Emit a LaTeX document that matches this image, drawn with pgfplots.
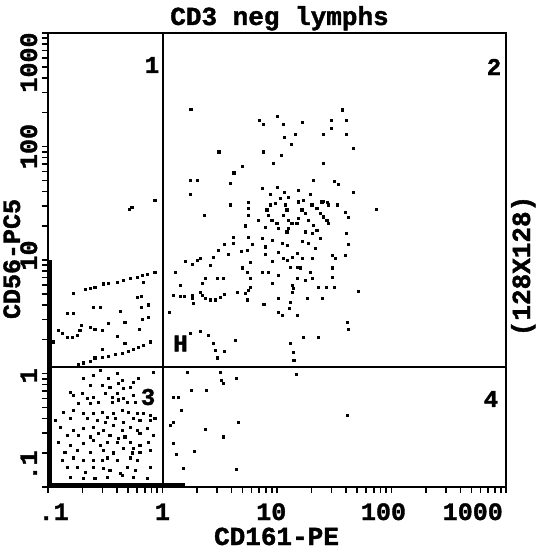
\documentclass[border=0pt]{standalone}
\usepackage{fontspec}
\usepackage{pgfplots}
\pgfplotsset{compat=1.18}
\newfontfamily\pix{Liberation Mono Bold}[FakeBold=1.5]
\newcommand{\pixfont}[1]{\pix\fontsize{#1}{#1}\selectfont}
\begin{document}
\begin{tikzpicture}
\begin{axis}[
  at={(0pt,0pt)}, anchor=south west,
  scale only axis, width=458pt, height=454pt,
  xmin=-1, xmax=3, ymin=-1, ymax=3,
  axis line style={line width=2.4pt},
  xtick pos=bottom, ytick pos=left,
  tick align=outside,
  major tick length=0pt,
  minor tick length=6pt,
  every minor tick/.style={line width=1.6pt, black},
  xtick={-0.95,0,0.95,1.93,2.71}, xticklabels={.1,1,10,100,1000},
  ytick={-0.81,-0.02,1.04,2.0,2.74}, yticklabels={.1,1,10,100,1000},
  minor xtick={-1,-0.699,-0.523,-0.398,-0.301,-0.222,-0.155,-0.097,-0.046,0,0.301,0.477,0.602,0.699,0.778,0.845,0.903,0.954,1,1.301,1.477,1.602,1.699,1.778,1.845,1.903,1.954,2,2.301,2.477,2.602,2.699,2.778,2.845,2.903,2.954,3},
  minor ytick={-1,-0.699,-0.523,-0.398,-0.301,-0.222,-0.155,-0.097,-0.046,0,0.301,0.477,0.602,0.699,0.778,0.845,0.903,0.954,1,1.301,1.477,1.602,1.699,1.778,1.845,1.903,1.954,2,2.301,2.477,2.602,2.699,2.778,2.845,2.903,2.954,3},
  xticklabel style={font=\pixfont{25}, anchor=base, yshift=-33pt},
  yticklabel style={font=\pixfont{25}, anchor=base, xshift=-11pt, rotate=90},
]
% events piled on the axes
\addplot[black, line width=4pt] coordinates {(-0.985,-1)(-0.985,1.0)};
\addplot[black, line width=4pt] coordinates {(-1,-0.985)(0.2,-0.985)};
% quadrant 2
\addplot[only marks, mark=square*, mark size=1.25pt, black] coordinates {
(0.246,2.330)(1.568,2.324)(0.843,2.233)(0.878,2.198)(1.000,2.269)(1.052,2.198)(1.218,2.216)(1.472,2.233)(1.603,2.233)(1.472,2.163)(1.061,2.084)(1.157,2.110)(1.402,2.110)(1.603,2.110)(1.122,2.022)(1.664,1.987)(0.493,1.952)(0.878,1.952)(1.035,1.925)(0.965,1.855)(1.402,1.855)(0.694,1.828)(0.624,1.767)(0.240,1.705)(0.301,1.705)(1.314,1.705)(1.498,1.696)(1.533,1.670)(0.590,1.678)(0.869,1.634)(1.000,1.643)(1.183,1.617)(1.061,1.599)(1.288,1.581)(0.240,1.581)(1.664,1.599)(0.939,1.581)(1.026,1.546)(1.096,1.555)(1.183,1.520)(0.747,1.511)(1.227,1.529)(1.402,1.520)(1.437,1.511)(0.590,1.485)(1.524,1.485)(1.865,1.449)(0.362,1.396)(0.747,1.396)(1.594,1.423)(1.620,1.379)(0.721,1.300)(1.603,1.238)
(0.910,1.441)(0.924,1.396)(0.954,1.352)(0.997,1.323)(0.939,1.485)(0.983,1.500)(1.070,1.485)(1.085,1.441)(1.055,1.396)(1.099,1.352)(1.128,1.323)(1.186,1.514)(1.216,1.441)(1.245,1.411)(1.186,1.367)(1.172,1.323)(1.303,1.485)(1.347,1.456)(1.376,1.411)(1.404,1.382)(1.434,1.352)(1.448,1.323)(1.390,1.514)(1.448,1.485)(1.273,1.352)(1.317,1.308)(1.347,1.264)(1.011,1.279)(1.085,1.249)(1.245,1.249)(0.749,1.456)(0.837,1.352)
(0.895,1.291)(1.096,1.282)(1.245,1.247)(1.306,1.238)(1.376,1.194)(1.620,1.141)(1.594,1.044)(0.616,1.203)(0.747,1.203)(0.869,1.194)(0.956,1.176)(1.044,1.150)(1.087,1.132)(1.218,1.167)(1.271,1.150)(1.332,1.106)(1.480,1.044)(1.507,1.018)(0.485,1.088)(0.537,1.141)(0.616,1.150)(0.686,1.079)(0.738,1.088)(0.782,1.141)(0.895,1.115)(0.895,1.053)(1.009,1.070)(1.052,1.018)(1.087,1.000)(1.131,1.026)(1.175,1.062)(1.218,1.018)(1.306,1.018)(0.441,1.026)(0.572,1.053)(0.197,0.991)(0.301,1.000)(0.328,1.018)(0.258,0.965)(0.415,0.956)(0.764,0.982)(0.956,0.991)(0.694,0.930)(0.738,0.894)(0.869,0.894)(0.921,0.894)(1.009,0.868)(1.114,0.938)(1.175,0.938)(1.201,0.930)(1.288,0.894)(1.480,0.930)(1.480,0.850)(0.109,0.894)(0.476,0.841)(0.528,0.841)(0.371,0.841)(0.345,0.797)(0.764,0.841)(1.175,0.841)(1.245,0.824)(1.306,0.841)(0.956,0.797)(1.131,0.780)(1.140,0.753)(0.764,0.762)(0.747,0.736)(1.358,0.762)(1.428,0.762)(1.498,0.762)(1.707,0.727)(0.153,0.780)(0.328,0.718)(0.345,0.692)(0.092,0.692)(0.153,0.683)(0.188,0.683)(0.258,0.692)(0.258,0.665)(0.371,0.665)(0.415,0.648)(0.459,0.648)(0.502,0.674)(0.537,0.700)(0.651,0.718)(0.721,0.709)(0.738,0.648)(1.009,0.665)(1.131,0.718)(1.262,0.665)(1.393,0.665)(0.266,0.621)(0.886,0.612)(1.114,0.630)(1.105,0.577)(1.009,0.542)(1.044,0.515)(1.175,0.515)(0.057,0.542)(1.611,0.454)(1.620,0.392)(1.227,0.322)(1.358,0.322)(0.633,0.295)(0.537,0.198)(1.114,0.269)(1.140,0.189)(1.148,0.119)
(0.240,0.357)(0.328,0.374)(0.397,0.339)(0.441,0.269)(0.459,0.207)(0.476,0.137)
};
% quadrant 1
\addplot[only marks, mark=square*, mark size=1.25pt, black] coordinates {
(-0.677,0.744)(-0.633,0.753)(-0.590,0.762)(-0.520,0.789)(-0.476,0.797)(-0.397,0.806)(-0.345,0.824)(-0.284,0.841)(-0.223,0.850)(-0.179,0.868)(-0.135,0.877)(-0.066,0.894)(-0.782,0.709)(-0.170,0.806)(-0.223,0.674)(-0.188,0.683)(-0.607,0.586)(-0.546,0.586)(-0.371,0.551)(-0.127,0.604)(-0.188,0.586)(-0.834,0.533)(-0.782,0.533)(-0.179,0.480)(-0.127,0.498)(-0.328,0.454)(-0.476,0.445)(-0.633,0.410)(-0.590,0.392)(-0.528,0.383)(-0.913,0.383)(-0.878,0.357)(-0.834,0.322)(-0.790,0.322)(-0.747,0.339)(-0.721,0.383)(-0.712,0.427)(-0.205,0.392)(-0.397,0.330)(-0.956,0.278)(-0.328,0.269)(-0.528,0.216)(-0.109,0.278)(-0.170,0.251)(-0.214,0.233)(-0.258,0.216)(-0.301,0.198)(-0.354,0.181)(-0.415,0.172)(-0.476,0.154)(-0.528,0.145)(-0.590,0.137)(-0.633,0.110)(-0.694,0.093)(-0.738,0.084)(-0.066,1.529)(-0.269,1.467)(-0.293,1.449)
};
% quadrant 3
\addplot[only marks, mark=square*, mark size=1.25pt, black] coordinates {
(-0.694,-0.040)(-0.607,-0.013)(-0.546,0.031)(-0.476,-0.040)(-0.397,0.004)(-0.389,-0.084)(-0.354,-0.057)(-0.258,-0.075)(-0.214,-0.040)(-0.633,-0.101)(-0.528,-0.101)(-0.459,-0.119)(-0.345,-0.128)(-0.284,-0.119)
(-0.808,-0.163)(-0.782,-0.189)(-0.703,-0.172)(-0.659,-0.216)(-0.607,-0.207)(-0.502,-0.172)(-0.441,-0.207)(-0.397,-0.172)(-0.345,-0.216)(-0.310,-0.251)(-0.258,-0.189)(-0.240,-0.251)(-0.738,-0.260)(-0.633,-0.260)(-0.563,-0.251)(-0.441,-0.251)(-0.389,-0.233)
(-0.869,-0.339)(-0.782,-0.322)(-0.694,-0.348)(-0.607,-0.348)(-0.528,-0.339)(-0.485,-0.383)(-0.432,-0.348)(-0.354,-0.322)(-0.301,-0.339)(-0.223,-0.348)(-0.170,-0.348)(-0.109,-0.366)(-0.939,-0.410)(-0.808,-0.392)(-0.659,-0.392)(-0.572,-0.410)(-0.502,-0.427)(-0.415,-0.392)(-0.345,-0.427)(-0.258,-0.392)(-0.197,-0.410)(-0.109,-0.410)(-0.066,-0.392)
(-0.895,-0.471)(-0.782,-0.498)(-0.694,-0.480)(-0.607,-0.471)(-0.520,-0.498)(-0.432,-0.454)(-0.354,-0.498)(-0.284,-0.471)(-0.223,-0.498)(-0.135,-0.480)(-0.834,-0.542)(-0.738,-0.542)(-0.633,-0.559)(-0.563,-0.524)(-0.459,-0.542)(-0.389,-0.568)(-0.328,-0.559)(-0.197,-0.524)(-0.083,-0.542)
(-0.913,-0.604)(-0.808,-0.630)(-0.694,-0.612)(-0.607,-0.586)(-0.546,-0.630)(-0.485,-0.604)(-0.397,-0.604)(-0.284,-0.604)(-0.258,-0.656)(-0.197,-0.630)(-0.127,-0.604)(-0.852,-0.692)(-0.747,-0.674)(-0.633,-0.692)(-0.520,-0.674)(-0.432,-0.700)(-0.345,-0.656)(-0.266,-0.700)(-0.197,-0.692)(-0.109,-0.674)
(-0.878,-0.762)(-0.782,-0.744)(-0.694,-0.762)(-0.607,-0.762)(-0.528,-0.762)(-0.485,-0.744)(-0.397,-0.762)(-0.284,-0.744)(-0.223,-0.762)(-0.834,-0.824)(-0.747,-0.824)(-0.677,-0.868)(-0.607,-0.824)(-0.520,-0.833)(-0.459,-0.850)(-0.371,-0.877)(-0.310,-0.824)(-0.240,-0.850)(-0.109,-0.824)
(-0.808,-0.912)(-0.694,-0.921)(-0.590,-0.921)(-0.485,-0.912)(-0.354,-0.894)(-0.258,-0.912)(-0.135,-0.921)
};
% quadrant 4 and near the gate lines
\addplot[only marks, mark=square*, mark size=1.25pt, black] coordinates {
(0.214,0.013)(0.502,0.013)(0.511,-0.057)(0.528,-0.084)(0.642,-0.040)(1.166,-0.004)(0.249,-0.145)(0.380,-0.145)(0.092,-0.207)(0.135,-0.207)(0.162,-0.322)(0.659,-0.427)(1.611,-0.366)(0.371,-0.489)(0.528,-0.559)(0.092,-0.427)(0.066,-0.454)(0.092,-0.612)(0.275,-0.683)(0.118,-0.709)(0.642,-0.841)(0.179,-0.833)(-0.083,0.013)
};
\draw[line width=1.8pt] (axis cs:0.005,-1) -- (axis cs:0.005,3);
\draw[line width=1.8pt] (axis cs:-1,0.057) -- (axis cs:3,0.057);
\end{axis}
\node[font=\pixfont{26}, anchor=base] at (231.5pt,462pt) {CD3 neg lymphs};
\node[font=\pixfont{26}, anchor=base] at (228.5pt,-58pt) {CD161-PE};
\node[font=\pixfont{25}, rotate=90, anchor=base] at (-28pt,228pt) {CD56-PC5};
\node[font=\pixfont{26}, rotate=90, anchor=base] at (482pt,221pt) {(128X128)};
\node[font=\pixfont{24}] at (104pt,422pt) {1};
\node[font=\pixfont{24}] at (446pt,420pt) {2};
\node[font=\pixfont{24}] at (100pt,90pt) {3};
\node[font=\pixfont{24}] at (443pt,88pt) {4};
\node[font=\pixfont{24}] at (132.5pt,143.5pt) {H};
\pgfresetboundingbox
\path[use as bounding box] (-48pt,-66pt) rectangle (490pt,487pt);
\end{tikzpicture}
\end{document}
